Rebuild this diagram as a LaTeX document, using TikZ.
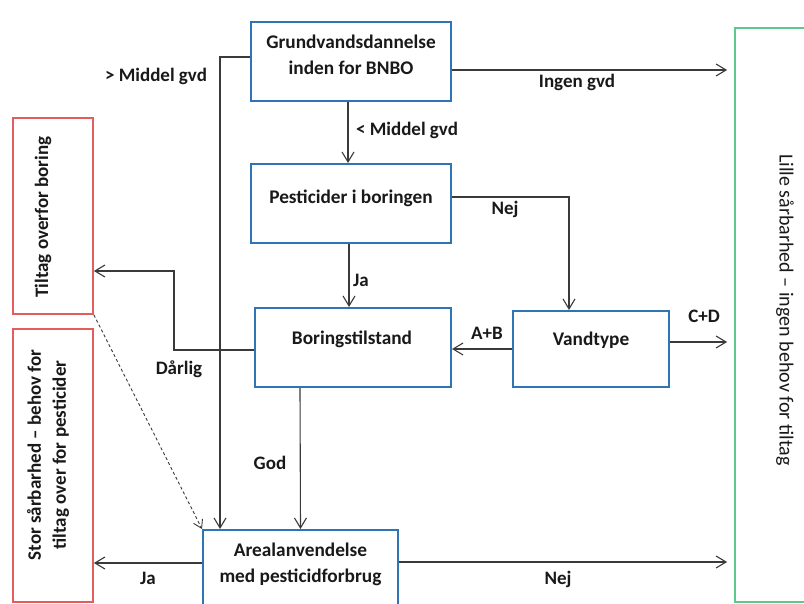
\documentclass[tikz,border=0pt]{standalone}
\usepackage{fontspec}
\setmainfont{Carlito}
\usetikzlibrary{arrows.meta}
\definecolor{boxblue}{HTML}{2E75B6}
\definecolor{boxred}{HTML}{E35D5D}
\definecolor{boxgreen}{HTML}{5CC98E}
\definecolor{linegray}{HTML}{3A3A3A}
\tikzset{
  bluebox/.style={draw=boxblue, line width=2pt, inner sep=0pt},
  redbox/.style={draw=boxred, line width=1.8pt, inner sep=0pt},
  greenbox/.style={draw=boxgreen, line width=1.8pt, inner sep=0pt},
  boxtxt/.style={font=\bfseries\fontsize{19.3}{26}\selectfont, align=center, inner sep=0pt, text=black!90},
  lbl/.style={font=\bfseries\fontsize{19}{22}\selectfont, inner sep=0pt, text=black!90},
  redtxt/.style={font=\bfseries\fontsize{19}{25}\selectfont, align=center, inner sep=0pt, rotate=90, text=black!90},
  greentxt/.style={font=\fontsize{20}{24}\selectfont, inner sep=0pt, rotate=-90, text=black!90},
  conn/.style={draw=linegray, line width=1.1pt, -{Straight Barb[length=10pt,width=12pt,line width=1.1pt]}},
  dashconn/.style={draw=linegray, line width=0.9pt, dash pattern=on 3pt off 2.5pt, -{Straight Barb[length=8pt,width=10pt,line width=0.9pt,line cap=butt]}}
}
\begin{document}
\begin{tikzpicture}[x=1pt,y=-1pt]
\useasboundingbox[fill=white] (0,0) rectangle (804,604);
% boxes
\node[bluebox, minimum width=200pt, minimum height=79pt] (grund) at (351,61.5) {};
\node[boxtxt] (grundt) at (351,55) {Grundvandsdannelse\\inden for BNBO};
\node[bluebox, minimum width=200pt, minimum height=79pt] (pest) at (351,203.5) {};
\node[boxtxt] (pestt) at (351,198) {Pesticider i boringen};
\node[bluebox, minimum width=196pt, minimum height=79pt] (boring) at (353,347.5) {};
\node[boxtxt] (boringt) at (352,339) {Boringstilstand};
\node[bluebox, minimum width=156pt, minimum height=76pt] (vand) at (591,349) {};
\node[boxtxt] (vandt) at (591,340) {Vandtype};
\node[bluebox, minimum width=195pt, minimum height=80pt] (areal) at (300.5,570) {};
\node[boxtxt] (arealt) at (300.5,564) {Arealanvendelse\\med pesticidforbrug};
\node[redbox, minimum width=80pt, minimum height=196pt] (red1) at (53,216) {};
\node[redtxt] (red1t) at (43,217) {Tiltag overfor boring};
\node[redbox, minimum width=80pt, minimum height=273pt] (red2) at (53,465.5) {};
\node[redtxt] (red2t) at (48,455) {Stor sårbarhed – behov for\\tiltag over for pesticider};
\node[greenbox, minimum width=100pt, minimum height=574pt] (green) at (785,315) {};
\node[greentxt] (greent) at (785,310) {Lille sårbarhed – ingen behov for tiltag};
% connector anchors
\coordinate (gE) at ([yshift=-8.5pt]grund.east);
\coordinate (gS) at ([xshift=-3pt]grund.south);
\coordinate (pN) at ([xshift=-3pt]pest.north);
\coordinate (gW) at ([yshift=4.5pt]grund.west);
\coordinate (aN1) at ([xshift=-80.5pt]areal.north);
\coordinate (pE) at ([yshift=6.5pt]pest.east);
\coordinate (vN) at ([xshift=-22pt]vand.north);
\coordinate (pS) at ([xshift=-2pt]pest.south);
\coordinate (bN) at ([xshift=-4pt]boring.north);
\coordinate (vE) at ([yshift=7pt]vand.east);
\coordinate (bW) at ([yshift=-2.5pt]boring.west);
\coordinate (bend) at (174,271);
\coordinate (bS) at ([xshift=-53pt]boring.south);
\coordinate (aW) at ([yshift=7pt]areal.west);
\coordinate (aE) at ([yshift=8pt]areal.east);
% connectors
\draw[conn, shorten >=7pt] (gE) -- (green.west |- gE);
\draw[conn] (gS) -- (pN);
\draw[conn] (gW) -| (aN1);
\draw[conn] (pE) -| (vN);
\draw[conn] (pS) -- (bN);
\draw[conn] (vand.west) -- (vand.west -| boring.east);
\draw[conn, shorten >=7pt] (vE) -- (green.west |- vE);
\draw[conn] (bW) -| (bend) -- (bend -| red1.east);
\draw[conn] (bS) -- (areal.north);
\draw[dashconn] (red1.south east) -- (areal.north west);
\draw[conn] (aW) -- (red2.east |- aW);
\draw[conn, shorten >=7pt] (aE) -- (green.west |- aE);
% labels
\node[lbl] (l1) at (156,76) {> Middel gvd};
\node[lbl] (l2) at (407,130) {< Middel gvd};
\node[lbl] (l3) at (577,82) {Ingen gvd};
\node[lbl] (l4) at (505,209) {Nej};
\node[lbl] (l5) at (361,280) {Ja};
\node[lbl] (l6) at (487,333) {A+B};
\node[lbl] (l7) at (704,316) {C+D};
\node[lbl] (l8) at (179,369) {Dårlig};
\node[lbl] (l9) at (270,463) {God};
\node[lbl] (l10) at (148,578) {Ja};
\node[lbl] (l11) at (558,579) {Nej};
\end{tikzpicture}
\end{document}
